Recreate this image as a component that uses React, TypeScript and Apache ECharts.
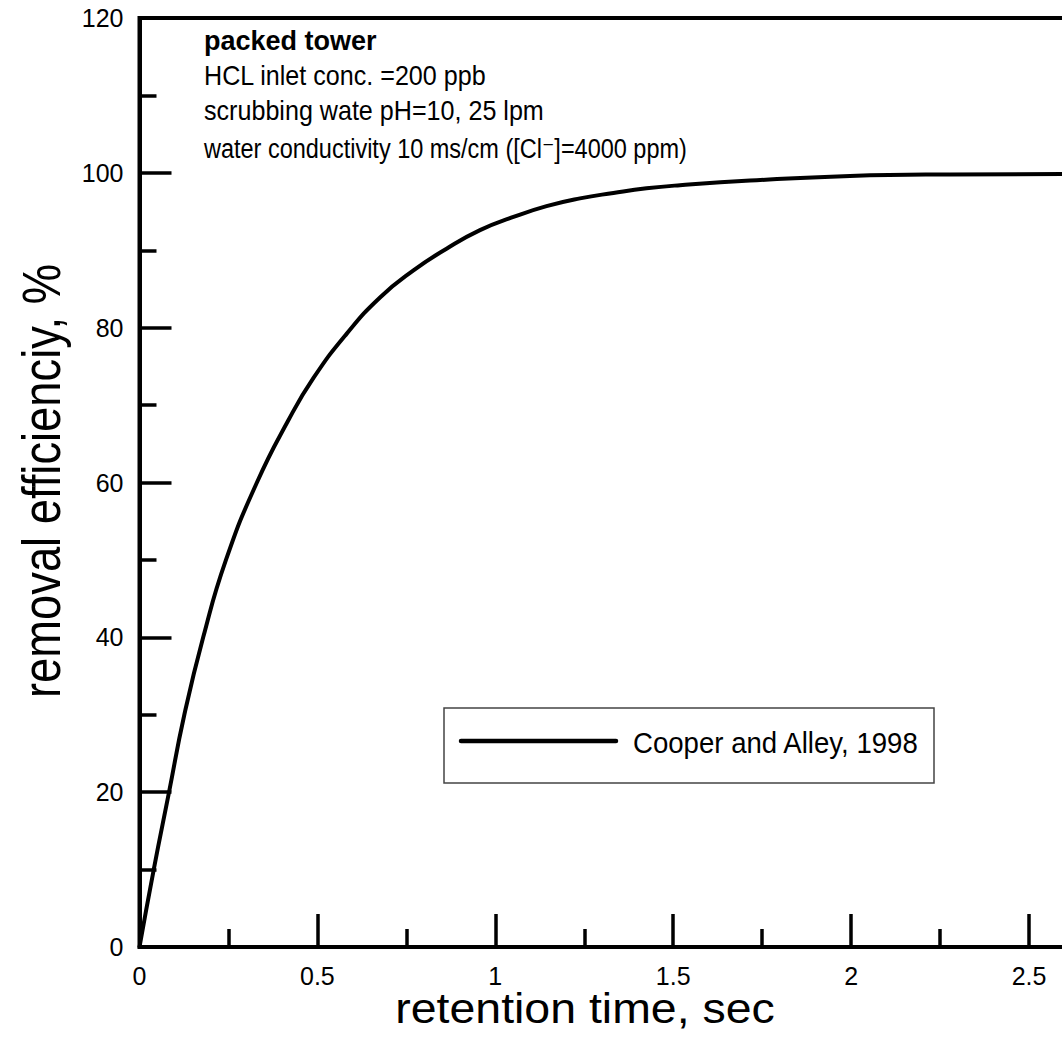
import React, { useEffect, useRef } from "react";
import * as echarts from "echarts";

// Data
const retentionTime = [0, 0.04, 0.083, 0.126, 0.179, 0.243, 0.33, 0.418, 0.489, 0.582, 0.676, 0.77, 0.863, 0.957, 1.051, 1.144, 1.238, 1.332, 1.425, 1.519, 1.716, 1.997, 2.278, 2.62];
const removalEfficiency = [0, 10, 20, 30, 40, 50, 60, 68.0, 73.5, 79.2, 83.9, 87.4, 90.2, 92.6, 94.3, 95.7, 96.7, 97.4, 98.0, 98.4, 99.0, 99.6, 99.8, 99.85];

const seriesName = "Cooper and Alley, 1998";
const noteTitle = "packed tower";
const noteLines = [
  "HCL inlet conc. =200 ppb",
  "scrubbing wate pH=10, 25 lpm",
  "water conductivity 10 ms/cm ([Cl\u207B]=4000 ppm)",
];
const xTitle = "retention time, sec";
const yTitle = "removal efficienciy, %";

const FONT = "'Liberation Sans', Arial, Helvetica, 'DejaVu Sans', sans-serif";

export default function App() {
  const ref = useRef<HTMLDivElement>(null);

  useEffect(() => {
    if (!ref.current) return;
    const chart = echarts.init(ref.current, null, { renderer: "svg" });
    const data = retentionTime.map((t, i) => [t, removalEfficiency[i]]);

    const noteBaselines = [85, 120, 158];

    chart.setOption({
      animation: false,
      backgroundColor: "#ffffff",
      grid: {
        left: 139.5,
        top: 18,
        width: 1067.4,
        height: 929,
        show: true,
        borderColor: "#000",
        borderWidth: 4,
        backgroundColor: "transparent",
      },
      xAxis: {
        type: "value",
        min: 0,
        max: 3,
        interval: 0.5,
        axisLine: { show: true, onZero: false, lineStyle: { color: "#000", width: 4 } },
        axisTick: { show: true, inside: true, length: 33, lineStyle: { color: "#000", width: 3.5 } },
        minorTick: { show: true, splitNumber: 2, length: 18, lineStyle: { color: "#000", width: 3.5 } },
        splitLine: { show: false },
        axisLabel: { color: "#000", fontSize: 25, fontFamily: FONT, margin: 16, showMaxLabel: false },
      },
      yAxis: {
        type: "value",
        min: 0,
        max: 120,
        interval: 20,
        axisLine: { show: true, onZero: false, lineStyle: { color: "#000", width: 4 } },
        axisTick: { show: true, inside: true, length: 32, lineStyle: { color: "#000", width: 3.5 } },
        minorTick: { show: true, splitNumber: 2, length: 17, lineStyle: { color: "#000", width: 3.5 } },
        splitLine: { show: false },
        axisLabel: { color: "#000", fontSize: 25, fontFamily: FONT, margin: 16 },
      },
      series: [
        {
          name: seriesName,
          type: "line",
          data,
          showSymbol: false,
          smooth: 0.5,
          lineStyle: { color: "#000", width: 4 },
          itemStyle: { color: "#000" },
        },
      ],
      graphic: [
        {
          type: "text",
          x: 204,
          y: 50 - 0.35 * 27,
          style: { text: noteTitle, fontSize: 27, fontWeight: "bold", fontFamily: FONT, fill: "#000", align: "left", verticalAlign: "middle" },
        },
        ...noteLines.map((t, i) => ({
          type: "text",
          x: 204,
          y: noteBaselines[i] - 0.35 * 27,
          scaleX: i === 2 ? 0.87 : 0.93,
          style: { text: t, fontSize: 27, fontFamily: FONT, fill: "#000", align: "left", verticalAlign: "middle" },
        })),
        {
          type: "text",
          x: 585,
          y: 1023 - 0.35 * 43,
          scaleX: 1.08,
          style: { text: xTitle, fontSize: 43, fontFamily: FONT, fill: "#000", align: "center", verticalAlign: "middle" },
        },
        {
          type: "text",
          x: 60 - 0.35 * 53,
          y: 481,
          rotation: Math.PI / 2,
          scaleX: 0.855,
          style: { text: yTitle, fontSize: 53, fontFamily: FONT, fill: "#000", align: "center", verticalAlign: "middle" },
        },
        {
          type: "rect",
          shape: { x: 444, y: 708, width: 490, height: 75 },
          style: { fill: "#fff", stroke: "#444", lineWidth: 1.5 },
          z: 10,
        },
        {
          type: "line",
          shape: { x1: 461, y1: 741, x2: 616, y2: 741 },
          style: { stroke: "#000", lineWidth: 4.5, lineCap: "round" },
          z: 11,
        },
        {
          type: "text",
          x: 633,
          y: 753.3 - 0.35 * 30,
          scaleX: 0.92,
          z: 11,
          style: { text: seriesName, fontSize: 30, fontFamily: FONT, fill: "#000", align: "left", verticalAlign: "middle" },
        },
      ],
    });

    return () => chart.dispose();
  }, []);

  return (
    <div style={{ position: "fixed", left: 0, top: 0, width: 1062, height: 1043, overflow: "hidden", background: "#fff" }}>
      <div ref={ref} style={{ width: 1300, height: 1043 }} />
    </div>
  );
}
